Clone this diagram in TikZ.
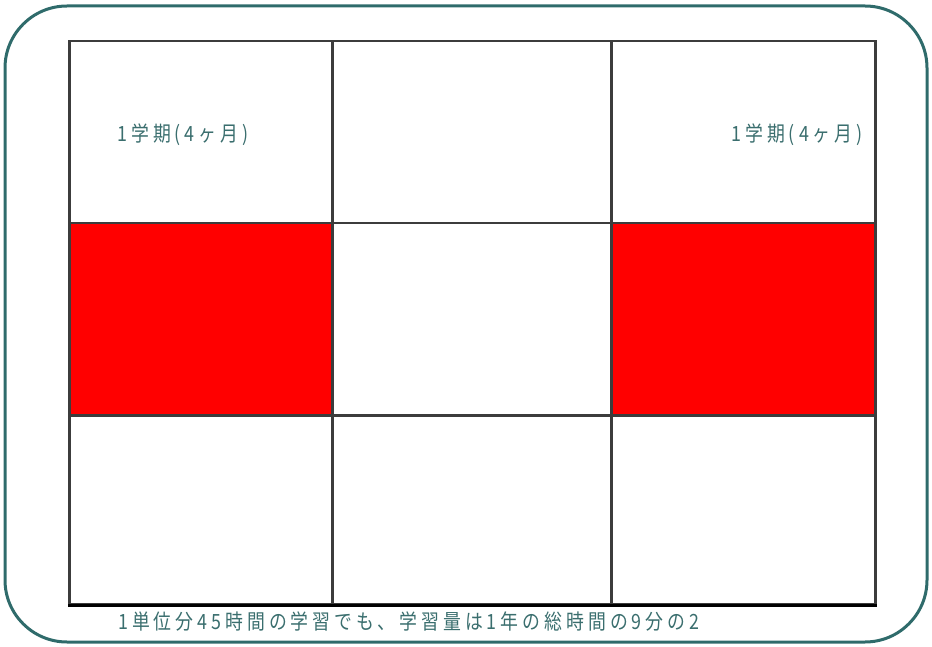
\documentclass[tikz,border=0pt]{standalone}
\usepackage{fontspec}
\newfontfamily\jp[FakeStretch=0.85,LetterSpace=19]{Noto Sans CJK JP}
\definecolor{teal1}{HTML}{2F6B6B}
\definecolor{txt}{HTML}{3A6E6E}
\definecolor{gridc}{HTML}{3C3C3C}
\tikzset{
  cell/.style={draw=gridc, line width=2.5pt, fill=white},
  redcell/.style={draw=gridc, line width=2.5pt, fill=red},
  lbl/.style={text=txt, font=\jp\fontsize{21}{23}\selectfont, inner sep=0pt}
}
\begin{document}
\begin{tikzpicture}[x=1pt,y=-1pt]
\useasboundingbox (0,0) rectangle (932,647);
\draw[teal1, line width=3pt, rounded corners=62pt] (5,6) rectangle (927,642);
% grid
\node[cell, minimum width=263pt, minimum height=182pt, anchor=north west] (c11) at (68,40) {};
\node[cell, minimum width=279pt, minimum height=182pt, anchor=north west] (c12) at (331,40) {};
\node[cell, minimum width=264pt, minimum height=182pt, anchor=north west] (c13) at (610,40) {};
\node[redcell, minimum width=263pt, minimum height=192pt, anchor=north west] (c21) at (68,222) {};
\node[cell, minimum width=279pt, minimum height=192pt, anchor=north west] (c22) at (331,222) {};
\node[redcell, minimum width=264pt, minimum height=192pt, anchor=north west] (c23) at (610,222) {};
\node[cell, minimum width=263pt, minimum height=189pt, anchor=north west] (c31) at (68,414) {};
\node[cell, minimum width=279pt, minimum height=189pt, anchor=north west] (c32) at (331,414) {};
\node[cell, minimum width=264pt, minimum height=189pt, anchor=north west] (c33) at (610,414) {};
\draw[black, line width=3pt] (c31.south west) -- (c33.south east);
% labels
\node[lbl] (t1) at (183,135) {1学期(4ヶ月)};
\node[lbl] (t2) at (797,135) {1学期(4ヶ月)};
\node[lbl, anchor=west] (t3) at (118,622) {1単位分45時間の学習でも、学習量は1年の総時間の9分の2};
\end{tikzpicture}
\end{document}
